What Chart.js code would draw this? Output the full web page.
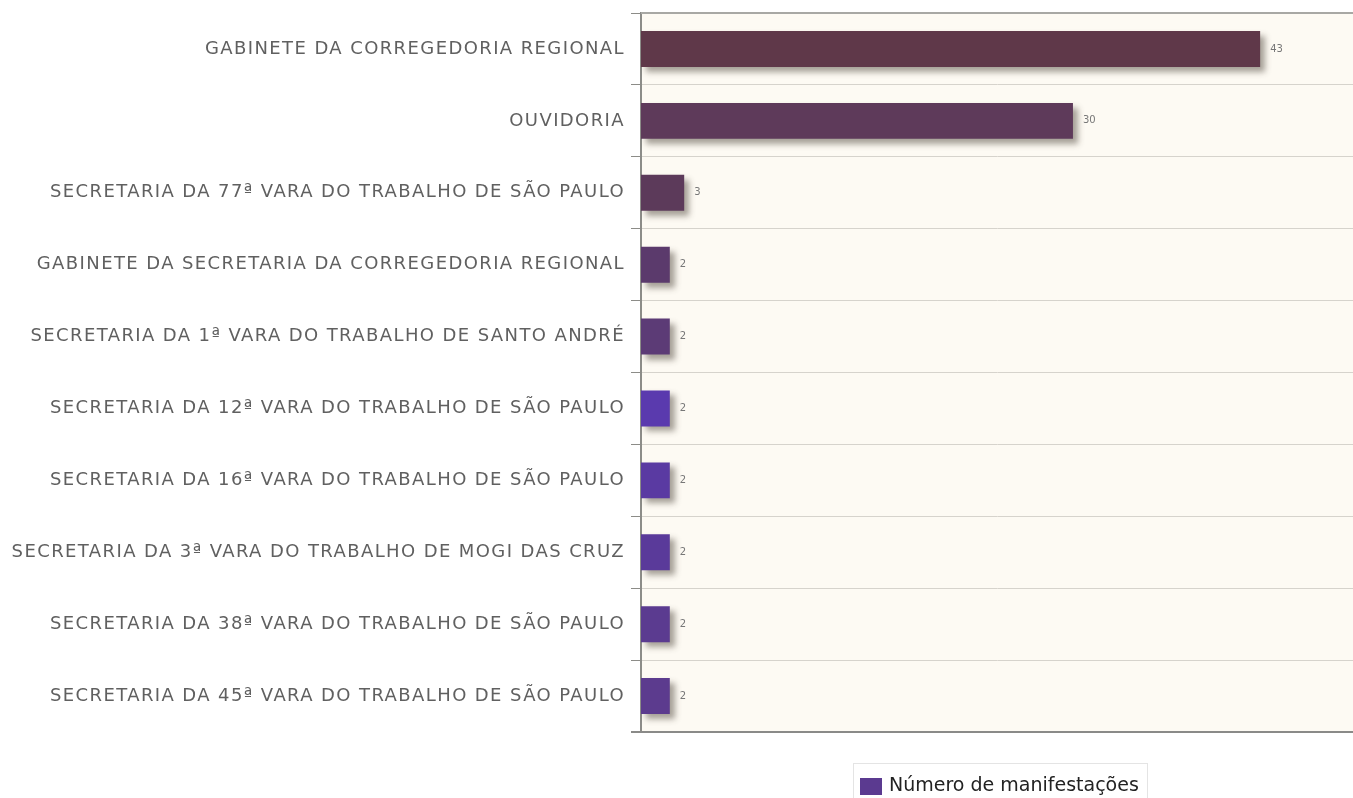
<!DOCTYPE html>
<html>
<head>
<meta charset="utf-8">
<script src="https://cdn.jsdelivr.net/npm/chart.js@4"></script>
<style>
  html, body { margin: 0; padding: 0; background: #fff; }
  #wrap { width: 1353px; height: 798px; }
</style>
</head>
<body>
<div id="wrap"><canvas id="myChart" width="1353" height="798"></canvas></div>
<script>
const labels = [
  "GABINETE DA CORREGEDORIA REGIONAL",
  "OUVIDORIA",
  "SECRETARIA DA 77ª VARA DO TRABALHO DE SÃO PAULO",
  "GABINETE DA SECRETARIA DA CORREGEDORIA REGIONAL",
  "SECRETARIA DA 1ª VARA DO TRABALHO DE SANTO ANDRÉ",
  "SECRETARIA DA 12ª VARA DO TRABALHO DE SÃO PAULO",
  "SECRETARIA DA 16ª VARA DO TRABALHO DE SÃO PAULO",
  "SECRETARIA DA 3ª VARA DO TRABALHO DE MOGI DAS CRUZ",
  "SECRETARIA DA 38ª VARA DO TRABALHO DE SÃO PAULO",
  "SECRETARIA DA 45ª VARA DO TRABALHO DE SÃO PAULO",
];

const amount = [43, 30, 3, 2, 2, 2, 2, 2, 2, 2];

const seriesName = "Número de manifestações";

const barColors = [
  "#5f3849", "#5e3a5a", "#5c3a5a", "#5b3a6c", "#5c3b76",
  "#5a3aae", "#5a3aa2", "#5a3a9a", "#5b3b90", "#5c3b8e",
];

const ctx = document.getElementById("myChart").getContext("2d");

// cream plot background + top/bottom frame
const plotFrame = {
  id: "plotFrame",
  beforeDraw(chart) {
    const { ctx, chartArea: a } = chart;
    ctx.letterSpacing = "1.4px";
    ctx.save();
    ctx.fillStyle = "#fdfaf3";
    ctx.fillRect(a.left, a.top, a.right - a.left, a.bottom - a.top);
    ctx.restore();
  },
  afterDraw(chart) {
    const { ctx, chartArea: a } = chart;
    ctx.save();
    ctx.strokeStyle = "#a8a8a4";
    ctx.lineWidth = 2;
    ctx.beginPath();
    ctx.moveTo(a.left, a.top);
    ctx.lineTo(a.right, a.top);
    ctx.stroke();
    ctx.strokeStyle = "#8a8a88";
    ctx.lineWidth = 2;
    ctx.beginPath();
    ctx.moveTo(a.left - 10, a.bottom);
    ctx.lineTo(a.right, a.bottom);
    ctx.stroke();

    // legend
    ctx.letterSpacing = "0px";
    ctx.strokeStyle = "#e4e4e4";
    ctx.lineWidth = 1;
    ctx.strokeRect(853.5, 763.5, 294, 36);
    ctx.fillStyle = "#5b3a90";
    ctx.fillRect(860, 778, 22, 17);
    ctx.fillStyle = "#222";
    ctx.font = "19px 'DejaVu Sans'";
    ctx.textBaseline = "middle";
    ctx.textAlign = "left";
    ctx.fillText(seriesName, 889, 786);
    ctx.restore();
  },
};

// drop shadow under the bars and value labels
const barShadow = {
  id: "barShadow",
  beforeDatasetsDraw(chart) {
    const c = chart.ctx;
    c.save();
    c.shadowColor = "rgba(60,50,40,0.45)";
    c.shadowOffsetX = 5;
    c.shadowOffsetY = 5;
    c.shadowBlur = 6;
  },
  afterDatasetsDraw(chart) {
    const c = chart.ctx;
    c.restore();
    c.save();
    c.letterSpacing = "0px";
    c.font = "10px 'DejaVu Sans'";
    c.fillStyle = "#777";
    c.textBaseline = "middle";
    c.textAlign = "left";
    chart.getDatasetMeta(0).data.forEach((bar, i) => {
      c.fillText(String(amount[i]), bar.x + 10, bar.y);
    });
    c.restore();
  },
};

const data = {
  labels,
  datasets: [
    {
      label: seriesName,
      data: amount,
      backgroundColor: barColors,
      borderWidth: 0,
      barPercentage: 0.5,
      categoryPercentage: 1,
    },
  ],
};

const config = {
  type: "bar",
  data: data,
  options: {
    indexAxis: "y",
    responsive: false,
    animation: false,
    layout: {
      padding: { top: 13, bottom: 66, left: 0, right: 0 },
    },
    plugins: {
      legend: { display: false },
      tooltip: { enabled: false },
    },
    scales: {
      x: {
        display: false,
        min: 0,
        max: 49.45,
      },
      y: {
        afterFit: (scale) => {
          scale.width = 641;
          scale.paddingTop = 0;
          scale.paddingBottom = 0;
        },
        border: {
          display: true,
          color: "#8c8c88",
          width: 2,
        },
        grid: {
          color: "#d6d3cc",
          tickColor: "#8c8c88",
          tickLength: 10,
          lineWidth: 1,
        },
        ticks: {
          padding: 6,
          color: "#606060",
          font: { family: "'DejaVu Sans'", size: 18 },
        },
      },
    },
  },
  plugins: [plotFrame, barShadow],
};

const myChart = new Chart(ctx, config);
</script>
</body>
</html>
